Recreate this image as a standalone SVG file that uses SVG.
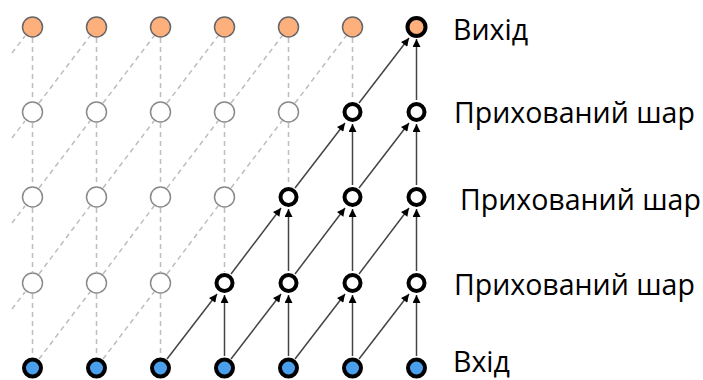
<svg xmlns="http://www.w3.org/2000/svg" width="703" height="380" viewBox="0 0 703 380">
  <defs>
    <marker id="arrow" viewBox="0 0 10 10" refX="10" refY="5" markerWidth="9" markerHeight="8" markerUnits="userSpaceOnUse" orient="auto">
      <path d="M0,0 L10,5 L0,10 z" fill="#000"/>
    </marker>
    <style>
      .dash { stroke: #bdbdbd; stroke-width: 1.5; stroke-dasharray: 5 4; fill: none; }
      .solid { stroke: #444; stroke-width: 1.5; fill: none; marker-end: url(#arrow); }
      .hidden { fill: #fff; stroke: #8a8a8a; stroke-width: 1.5; }
      .out { fill: #fdb07c; stroke: #666; stroke-width: 1.5; }
      .active { fill: #fff; stroke: #000; stroke-width: 4; }
      .active-out { fill: #fdb07c; stroke: #000; stroke-width: 4; }
      .in { fill: #4a9fec; stroke: #000; stroke-width: 4; }
      .label { font-family: "Open Sans", "Noto Sans", sans-serif; font-size: 28.5px; fill: #000; }
    </style>
  </defs>

  <!-- connectors -->
  <g id="connectors">
    <!-- faded dilated links -->
    <g class="dash">
      <!-- left stubs -->
      <line x1="12" y1="53" x2="25" y2="36"/>
      <line x1="12" y1="138" x2="25" y2="121"/>
      <line x1="12" y1="223" x2="25" y2="206"/>
      <line x1="12" y1="309" x2="25" y2="292"/>
      <!-- verticals -->
      <line x1="32.5" y1="38" x2="32.5" y2="101"/>
      <line x1="96.5" y1="38" x2="96.5" y2="101"/>
      <line x1="160.5" y1="38" x2="160.5" y2="101"/>
      <line x1="224.5" y1="38" x2="224.5" y2="101"/>
      <line x1="288.5" y1="38" x2="288.5" y2="101"/>
      <line x1="352.5" y1="38" x2="352.5" y2="101"/>
      <line x1="32.5" y1="123" x2="32.5" y2="186"/>
      <line x1="96.5" y1="123" x2="96.5" y2="186"/>
      <line x1="160.5" y1="123" x2="160.5" y2="186"/>
      <line x1="224.5" y1="123" x2="224.5" y2="186"/>
      <line x1="288.5" y1="123" x2="288.5" y2="186"/>
      <line x1="32.5" y1="208" x2="32.5" y2="272"/>
      <line x1="96.5" y1="208" x2="96.5" y2="272"/>
      <line x1="160.5" y1="208" x2="160.5" y2="272"/>
      <line x1="224.5" y1="208" x2="224.5" y2="272"/>
      <line x1="32.5" y1="294" x2="32.5" y2="357"/>
      <line x1="96.5" y1="294" x2="96.5" y2="357"/>
      <line x1="160.5" y1="294" x2="160.5" y2="357"/>
      <!-- diagonals -->
      <line x1="39" y1="103" x2="90" y2="36"/>
      <line x1="103" y1="103" x2="154" y2="36"/>
      <line x1="167" y1="103" x2="218" y2="36"/>
      <line x1="231" y1="103" x2="282" y2="36"/>
      <line x1="295" y1="103" x2="346" y2="36"/>
      <line x1="39" y1="188" x2="90" y2="121"/>
      <line x1="103" y1="188" x2="154" y2="121"/>
      <line x1="167" y1="188" x2="218" y2="121"/>
      <line x1="231" y1="188" x2="282" y2="121"/>
      <line x1="39" y1="274" x2="90" y2="206"/>
      <line x1="103" y1="274" x2="154" y2="206"/>
      <line x1="167" y1="274" x2="218" y2="206"/>
      <line x1="39" y1="359" x2="90" y2="292"/>
      <line x1="103" y1="359" x2="154" y2="292"/>
    </g>
    <!-- receptive field of the last output -->
    <g class="solid">
      <!-- input to hidden 1 -->
      <line x1="167" y1="359" x2="217" y2="294"/>
      <line x1="224.5" y1="356" x2="224.5" y2="295"/>
      <line x1="231" y1="359" x2="281" y2="294"/>
      <line x1="288.5" y1="356" x2="288.5" y2="295"/>
      <line x1="295" y1="359" x2="345" y2="294"/>
      <line x1="352.5" y1="356" x2="352.5" y2="295"/>
      <line x1="359" y1="359" x2="409" y2="294"/>
      <line x1="416.5" y1="356" x2="416.5" y2="295"/>
      <!-- hidden 1 to hidden 2 -->
      <line x1="231" y1="274" x2="281" y2="208"/>
      <line x1="288.5" y1="271" x2="288.5" y2="209"/>
      <line x1="295" y1="274" x2="345" y2="208"/>
      <line x1="352.5" y1="271" x2="352.5" y2="209"/>
      <line x1="359" y1="274" x2="409" y2="208"/>
      <line x1="416.5" y1="271" x2="416.5" y2="209"/>
      <!-- hidden 2 to hidden 3 -->
      <line x1="295" y1="188" x2="345" y2="123"/>
      <line x1="352.5" y1="185" x2="352.5" y2="124"/>
      <line x1="359" y1="188" x2="409" y2="123"/>
      <line x1="416.5" y1="185" x2="416.5" y2="124"/>
      <!-- hidden 3 to output -->
      <line x1="359" y1="103" x2="409" y2="38"/>
      <line x1="416.5" y1="100" x2="416.5" y2="39"/>
    </g>
  </g>

  <!-- output row -->
  <g id="output">
    <circle id="o1" class="out" cx="32.5" cy="27" r="10"/>
    <circle id="o2" class="out" cx="96.5" cy="27" r="10"/>
    <circle id="o3" class="out" cx="160.5" cy="27" r="10"/>
    <circle id="o4" class="out" cx="224.5" cy="27" r="10"/>
    <circle id="o5" class="out" cx="288.5" cy="27" r="10"/>
    <circle id="o6" class="out" cx="352.5" cy="27" r="10"/>
    <circle id="o7" class="active-out" cx="416.5" cy="27" r="9"/>
  </g>

  <!-- hidden layer 3 -->
  <g id="hidden3">
    <circle id="h3_1" class="hidden" cx="32.5" cy="112" r="10"/>
    <circle id="h3_2" class="hidden" cx="96.5" cy="112" r="10"/>
    <circle id="h3_3" class="hidden" cx="160.5" cy="112" r="10"/>
    <circle id="h3_4" class="hidden" cx="224.5" cy="112" r="10"/>
    <circle id="h3_5" class="hidden" cx="288.5" cy="112" r="10"/>
    <circle id="h3_6" class="active" cx="352.5" cy="112" r="8"/>
    <circle id="h3_7" class="active" cx="416.5" cy="112" r="8"/>
  </g>

  <!-- hidden layer 2 -->
  <g id="hidden2">
    <circle id="h2_1" class="hidden" cx="32.5" cy="197" r="10"/>
    <circle id="h2_2" class="hidden" cx="96.5" cy="197" r="10"/>
    <circle id="h2_3" class="hidden" cx="160.5" cy="197" r="10"/>
    <circle id="h2_4" class="hidden" cx="224.5" cy="197" r="10"/>
    <circle id="h2_5" class="active" cx="288.5" cy="197" r="8"/>
    <circle id="h2_6" class="active" cx="352.5" cy="197" r="8"/>
    <circle id="h2_7" class="active" cx="416.5" cy="197" r="8"/>
  </g>

  <!-- hidden layer 1 -->
  <g id="hidden1">
    <circle id="h1_1" class="hidden" cx="32.5" cy="283" r="10"/>
    <circle id="h1_2" class="hidden" cx="96.5" cy="283" r="10"/>
    <circle id="h1_3" class="hidden" cx="160.5" cy="283" r="10"/>
    <circle id="h1_4" class="active" cx="224.5" cy="283" r="8"/>
    <circle id="h1_5" class="active" cx="288.5" cy="283" r="8"/>
    <circle id="h1_6" class="active" cx="352.5" cy="283" r="8"/>
    <circle id="h1_7" class="active" cx="416.5" cy="283" r="8"/>
  </g>

  <!-- input row -->
  <g id="input">
    <circle id="i1" class="in" cx="32.5" cy="368" r="8.5"/>
    <circle id="i2" class="in" cx="96.5" cy="368" r="8.5"/>
    <circle id="i3" class="in" cx="160.5" cy="368" r="8.5"/>
    <circle id="i4" class="in" cx="224.5" cy="368" r="8.5"/>
    <circle id="i5" class="in" cx="288.5" cy="368" r="8.5"/>
    <circle id="i6" class="in" cx="352.5" cy="368" r="8.5"/>
    <circle id="i7" class="in" cx="416.5" cy="368" r="8.5"/>
  </g>

  <!-- layer labels -->
  <g id="labels">
    <text class="label" x="453" y="40">Вихід</text>
    <text class="label" x="454" y="123">Прихований шар</text>
    <text class="label" x="460" y="210">Прихований шар</text>
    <text class="label" x="454" y="295">Прихований шар</text>
    <text class="label" x="453" y="372">Вхід</text>
  </g>
</svg>
